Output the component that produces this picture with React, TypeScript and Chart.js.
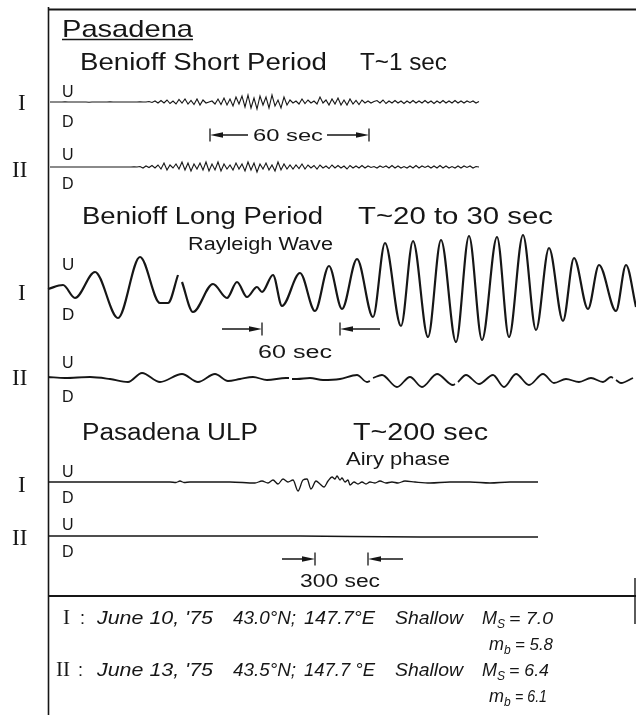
import React, { useEffect, useRef } from "react";
import { Chart, registerables } from "chart.js";

Chart.register(...registerables);

// ---------- data ----------
// Benioff short-period records: amplitude samples, one every SP_STEP time units from SP_START
const SP_START = 50;
const SP_STEP = 3;
const SP_I = [
  0, 0, 0, 0, 0, 0.3, 0, 0, 0, 0, 0, 0, 0, -0.3, 0, 0, 0, 0, 0, 0, 0.3, 0, 0, 0, 0, 0, 0, 0, 0, 0, 0.3, 0, 0,
  0.5, -0.5, 1, -1, 1.5, -1, 2, -1.5, 1, -2, 2.5, -1, 3, -2, 1.5, -2.5, 3, -3, 2, -1, 0, 1, -2, 3, -2.5, 4, -3,
  3, -4, 5, -2, 6, -5, 7, -6, 4, -7, 6, -3, 5, -6, 7, -4, 2,
  -6, 5, -3, 2, -1, 1, -2, 3, -1.5, 2, -1, 1, -2,
  5, -1, 2, -3, 3, -2, 4, -3, 2, -3, 3, -2, 1.5, -2.5, 2, -1, 1,
  -1, 0.5, 1.5, -1, 2, -1.5, 1, -1, 1.5, -1, 1, -1.5, 1, -1, 1.5, -1, 1, -1, 1.5, -1, 1, -1.5, 1, -1, 1.5, -1, 1,
  -1, 1.5, -1, 1, -1, 1, -0.5, 1, -1, 0.5,
];
const SP_II = [
  0, 0, 0, 0, 0, 0, 0, 0, 0, 0, 0, 0, 0, 0, 0, 0, 0, 0, 0, 0, 0, 0, 0, 0, 0, 0, 0, 0, 0.3, 0,
  0.5, -1, 1, -0.5, 1.5, -1, 2, -2, 4, -3, 2, -1, 3, -2, 5, -3, 4, -4, 3, -2, 4, -3, 5,
  -4, 3, -3, 5, -4, 3, -2, 2, -3, 4, -2, 3, -4, 5, -3, 4, -5, 3, -2, 4, -3, 2, -4, 5, -3, 3, -2, 2,
  -2, 2, -1.5, 3, -2, 2, -1, 1.5, -2, 2, -1, 1, -1.5, 2, -1, 1.5, -1, 1, -2, 1.5, -1, 1, -1, 1.5, -1, 1, -0.5,
  0.5, -1, 1, -0.5, 1, -1, 1.5, -1, 1, -1, 0.5, -1, 1, -1, 1.5, -1, 1, -0.5, 1, -1, 1, -1, 1.5, -1, 1, -1, 0.5,
  -1, 1, -1, 1, -0.5, 1, -1, 0.5, 0,
];

// Benioff long-period records: turning points (time, amplitude); null = pen gap
const LP_I_T = [48, 63, 75, 95, 118, 140, 160, 168, 178, 180, 182, 193, 213, 227, 237, 247, 257, 262, 273, 282,
  300, 315, 329, 342, 357, 373, 385, 401, 413, 428, 441, 456, 469, 482, 497, 509, 523, 536, 549, 563,
  574, 588, 599, 616, 626, 636];
const LP_I_A = [1, 5, -8, 18, -28, 33, -13, -13, 15, null, 8, -22, 6, -8, 8, -7, 3, -2, 15, -16,
  17, -21, 24, -19, 31, -27, 47, -36, 49, -47, 50, -52, 54, -50, 53, -47, 55, -40, 42, -31,
  32, -19, 25, -21, 25, -17];
const LP_II_T = [48, 65, 90, 110, 128, 142, 160, 182, 198, 215, 228, 240, 253, 267, 286, 289, 290, 292, 297, 310,
  323, 340, 357, 367, 370, 371, 373, 382, 397, 410, 422, 437, 453, 455, 456, 458, 466, 479, 493, 504,
  516, 529, 543, 554, 566, 579, 591, 603, 611, 613, 614, 616, 621, 633];
const LP_II_A = [1, 0, 1, -1, -4, 5, -4, 4, -4, 4, -3, -1, 1, -2, 0, 0, null, -1, -1, 0,
  -2, -1, 3, -4, -3, null, 0, 3, -9, 1, -9, 4, -7, -6, null, -4, 3, -6, 3, -9,
  4, -7, 4, -5, -1, -4, 0, -4, 1, 0, null, -2, -5, 0];

// Pasadena ultra-long-period records
const ULP_I_T = [48, 170, 176, 180, 184, 190, 230, 255, 262, 268, 273, 278, 283, 288, 293, 298, 303, 307, 311, 316,
  320, 324, 328, 332, 335, 337, 340, 342, 345, 348, 350, 354, 358, 362, 366, 370, 375, 380, 386, 392,
  398, 405, 415, 430, 450, 470, 490, 510, 538];
const ULP_I_A = [0, 0, -0.5, 1, -0.5, 0, 0, -1, 1, -1, 2, -2, 3, 0, 2, -9, 2, 3, -7, 1,
  -2, -5, 1, 5, 3, 6, 2, 4, 0, 2, -3, 0, -2, 0, -2, 0, -1, 1, -1, 0,
  -1, 1, 0, -1, 0, 0, -1, 0, 0];
const ULP_II_T = [48, 120, 200, 260, 300, 350, 420, 480, 538];
const ULP_II_A = [0, 0, 0, 0, 0, -0.5, -1, -1, -1];

// ---------- layout (record baselines on the sheet) ----------
const BASE = { spI: 102, spII: 167, lpI: 290, lpII: 378, ulpI: 482, ulpII: 536 };
const W = 636;
const H = 715;
const INK = "#161616";
const SANS = '"Liberation Sans", "DejaVu Sans", Arial, sans-serif';
const SERIF = '"Liberation Serif", "DejaVu Serif", serif';

function pts(ts: number[], amps: (number | null)[], base: number) {
  return ts.map((t, i) => ({ x: t, y: amps[i] === null ? null : base - (amps[i] as number) }));
}
function spPts(amps: number[], base: number) {
  return amps.map((a, i) => ({ x: SP_START + i * SP_STEP, y: base - a }));
}

type T = { s: string; x: number; y: number; size: number; w?: number; serif?: boolean; italic?: boolean };

const TEXTS: T[] = [
  { s: "Pasadena", x: 62, y: 37, size: 24, w: 131 },
  { s: "Benioff Short Period", x: 80, y: 70, size: 23, w: 247 },
  { s: "T~1 sec", x: 360, y: 70, size: 23, w: 87 },
  { s: "60 sec", x: 253, y: 141, size: 17, w: 70 },
  { s: "Benioff Long Period", x: 82, y: 224, size: 23, w: 241 },
  { s: "T~20 to 30 sec", x: 358, y: 224, size: 23, w: 195 },
  { s: "Rayleigh Wave", x: 188, y: 250, size: 18, w: 145 },
  { s: "60 sec", x: 258, y: 358, size: 18, w: 74 },
  { s: "Pasadena ULP", x: 82, y: 440, size: 23, w: 176 },
  { s: "T~200 sec", x: 353, y: 440, size: 23, w: 135 },
  { s: "Airy phase", x: 346, y: 465, size: 18, w: 104 },
  { s: "300 sec", x: 300, y: 587, size: 18, w: 80 },
  // U / D polarity marks
  { s: "U", x: 62, y: 97, size: 16 }, { s: "D", x: 62, y: 127, size: 16 },
  { s: "U", x: 62, y: 160, size: 16 }, { s: "D", x: 62, y: 189, size: 16 },
  { s: "U", x: 62, y: 270, size: 17 }, { s: "D", x: 62, y: 320, size: 17 },
  { s: "U", x: 62, y: 368, size: 16 }, { s: "D", x: 62, y: 402, size: 16 },
  { s: "U", x: 62, y: 477, size: 16 }, { s: "D", x: 62, y: 503, size: 16 },
  { s: "U", x: 62, y: 530, size: 16 }, { s: "D", x: 62, y: 557, size: 16 },
  // event numerals
  { s: "I", x: 18, y: 110, size: 23, serif: true },
  { s: "II", x: 12, y: 177, size: 23, serif: true },
  { s: "I", x: 18, y: 300, size: 23, serif: true },
  { s: "II", x: 12, y: 385, size: 23, serif: true },
  { s: "I", x: 18, y: 492, size: 23, serif: true },
  { s: "II", x: 12, y: 545, size: 23, serif: true },
  // legend
  { s: "I", x: 63, y: 624, size: 21, serif: true },
  { s: ":", x: 80, y: 624, size: 18 },
  { s: "June 10, '75", x: 97, y: 624, size: 18, italic: true, w: 116 },
  { s: "43.0°N;", x: 233, y: 624, size: 19, italic: true, w: 63 },
  { s: "147.7°E", x: 304, y: 624, size: 18, italic: true, w: 71 },
  { s: "Shallow", x: 395, y: 624, size: 18, italic: true, w: 68 },
  { s: "M", x: 482, y: 624, size: 18, italic: true },
  { s: "S", x: 497, y: 628, size: 12, italic: true },
  { s: "= 7.0", x: 509, y: 624, size: 17, italic: true, w: 44 },
  { s: "m", x: 489, y: 650, size: 18, italic: true },
  { s: "b", x: 504, y: 654, size: 12, italic: true },
  { s: "= 5.8", x: 515, y: 650, size: 16, italic: true, w: 38 },
  { s: "II", x: 56, y: 676, size: 21, serif: true },
  { s: ":", x: 78, y: 676, size: 18 },
  { s: "June 13, '75", x: 97, y: 676, size: 18, italic: true, w: 116 },
  { s: "43.5°N;", x: 233, y: 676, size: 19, italic: true, w: 63 },
  { s: "147.7 °E", x: 304, y: 676, size: 18, italic: true, w: 71 },
  { s: "Shallow", x: 395, y: 676, size: 18, italic: true, w: 68 },
  { s: "M", x: 482, y: 676, size: 18, italic: true },
  { s: "S", x: 497, y: 680, size: 12, italic: true },
  { s: "= 6.4", x: 509, y: 676, size: 17, italic: true, w: 40 },
  { s: "m", x: 489, y: 702, size: 18, italic: true },
  { s: "b", x: 504, y: 706, size: 12, italic: true },
  { s: "= 6.1", x: 515, y: 702, size: 16, italic: true, w: 32 },
];

// time-interval arrows: tip (with stop bar), tail, level
const ARROWS = [
  { tip: 210, tail: 248, y: 135 },
  { tip: 369, tail: 327, y: 135 },
  { tip: 262, tail: 222, y: 329 },
  { tip: 340, tail: 380, y: 329 },
  { tip: 315, tail: 282, y: 559 },
  { tip: 368, tail: 403, y: 559 },
];

const RULES = [
  { x1: 48.5, y1: 7, x2: 48.5, y2: 715, w: 1.6 },
  { x1: 48, y1: 9.5, x2: 636, y2: 9.5, w: 2 },
  { x1: 48, y1: 596, x2: 636, y2: 596, w: 2 },
  { x1: 62, y1: 39.5, x2: 193, y2: 39.5, w: 1.4 },
  { x1: 635, y1: 578, x2: 635, y2: 624, w: 1.4 },
];

const sheetPlugin = {
  id: "sheet",
  beforeDraw(chart: any) {
    const { ctx } = chart;
    ctx.save();
    ctx.fillStyle = "#ffffff";
    ctx.fillRect(0, 0, chart.width, chart.height);
    ctx.restore();
  },
  afterDatasetsDraw(chart: any) {
    const { ctx } = chart;
    const xs = chart.scales.x;
    const ys = chart.scales.y;
    const px = (v: number) => xs.getPixelForValue(v);
    const py = (v: number) => ys.getPixelForValue(v);
    ctx.save();
    ctx.strokeStyle = INK;
    ctx.fillStyle = INK;
    ctx.lineCap = "butt";
    for (const r of RULES) {
      ctx.lineWidth = r.w;
      ctx.beginPath();
      ctx.moveTo(px(r.x1), py(r.y1));
      ctx.lineTo(px(r.x2), py(r.y2));
      ctx.stroke();
    }
    for (const a of ARROWS) {
      const dir = a.tip > a.tail ? 1 : -1;
      const tx = px(a.tip);
      const yy = py(a.y);
      ctx.lineWidth = 1.3;
      ctx.beginPath();
      ctx.moveTo(px(a.tail), yy);
      ctx.lineTo(tx - dir * 10, yy);
      ctx.moveTo(tx, yy - 6.5);
      ctx.lineTo(tx, yy + 6.5);
      ctx.stroke();
      ctx.beginPath();
      ctx.moveTo(tx, yy);
      ctx.lineTo(tx - dir * 13, yy - 2.8);
      ctx.lineTo(tx - dir * 13, yy + 2.8);
      ctx.closePath();
      ctx.fill();
    }
    ctx.textAlign = "left";
    ctx.textBaseline = "alphabetic";
    for (const t of TEXTS) {
      ctx.font = `${t.italic ? "italic " : ""}${t.size}px ${t.serif ? SERIF : SANS}`;
      const m = ctx.measureText(t.s).width;
      const sx = t.w ? t.w / m : 1;
      ctx.save();
      ctx.translate(px(t.x), py(t.y));
      ctx.scale(sx, 1);
      ctx.fillText(t.s, 0, 0);
      ctx.restore();
    }
    ctx.restore();
  },
};

export default function App() {
  const ref = useRef<HTMLCanvasElement | null>(null);
  useEffect(() => {
    if (!ref.current) return;
    const common = { borderColor: INK, pointRadius: 0, fill: false, spanGaps: false };
    const chart = new Chart(ref.current, {
      type: "line",
      data: {
        datasets: [
          { ...common, data: spPts(SP_I, BASE.spI), borderWidth: 1.1, tension: 0 },
          { ...common, data: spPts(SP_II, BASE.spII), borderWidth: 1.1, tension: 0 },
          { ...common, data: pts(LP_I_T, LP_I_A, BASE.lpI), borderWidth: 2.2, cubicInterpolationMode: "monotone" },
          { ...common, data: pts(LP_II_T, LP_II_A, BASE.lpII), borderWidth: 1.8, cubicInterpolationMode: "monotone" },
          { ...common, data: pts(ULP_I_T, ULP_I_A, BASE.ulpI), borderWidth: 1.3, cubicInterpolationMode: "monotone" },
          { ...common, data: pts(ULP_II_T, ULP_II_A, BASE.ulpII), borderWidth: 1.3, tension: 0 },
        ] as any,
      },
      options: {
        animation: false,
        responsive: false,
        devicePixelRatio: 1,
        layout: { padding: 0 },
        events: [],
        plugins: { legend: { display: false }, tooltip: { enabled: false } },
        scales: {
          x: { type: "linear", min: 0, max: W, display: false },
          y: { type: "linear", min: 0, max: H, reverse: true, display: false },
        },
      } as any,
      plugins: [sheetPlugin],
    });
    return () => chart.destroy();
  }, []);
  return (
    <div style={{ position: "absolute", left: 0, top: 0, width: W, height: H }}>
      <canvas ref={ref} width={W} height={H} style={{ display: "block", width: W, height: H }} />
    </div>
  );
}
